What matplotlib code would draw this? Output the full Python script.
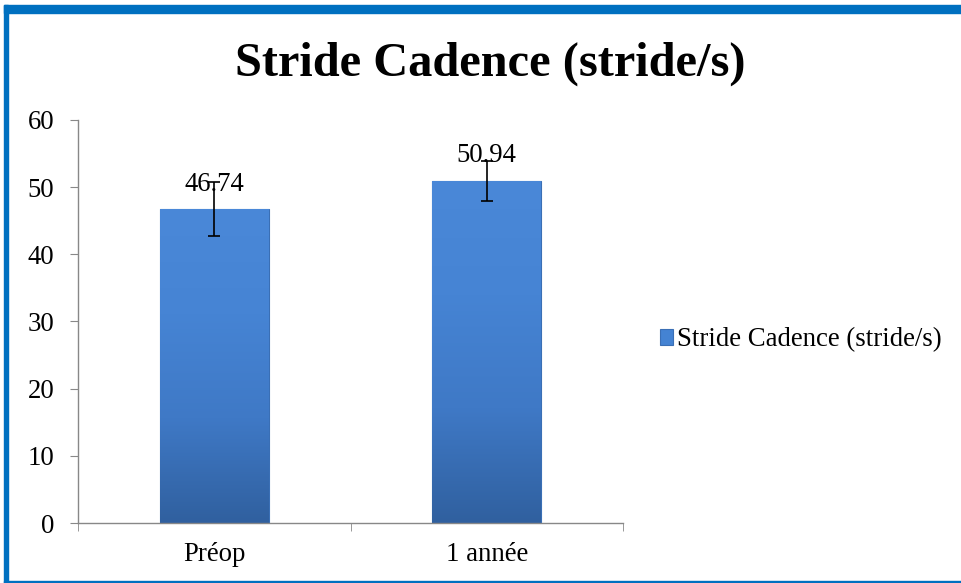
import numpy as np
import matplotlib
matplotlib.use("Agg")
import matplotlib.pyplot as plt
from matplotlib.patches import Rectangle
from matplotlib.colors import LinearSegmentedColormap

categories = ["Préop", "1 année"]
values = [46.74, 50.94]
errors = [4.0, 3.0]
series_name = "Stride Cadence (stride/s)"
title = "Stride Cadence (stride/s)"
yticks = [0, 10, 20, 30, 40, 50, 60]

plt.rcParams["font.family"] = ["Liberation Serif", "DejaVu Serif"]

fig = plt.figure(figsize=(9.62, 5.83), dpi=100)
ax = fig.add_axes([0.0811, 0.1029, 0.5665, 0.6913])

x = np.arange(len(categories))
bars = ax.bar(x, values, width=0.4, color="#4483D3", edgecolor="#3A6FB5",
              linewidth=0.8, label=series_name, zorder=2)

# vertical gradient inside each bar, clipped to the bar patch
grad = LinearSegmentedColormap.from_list("bev", ["#30609F", "#3F79C6", "#4684D4", "#4A88D8"])
for b in bars:
    x0, y0 = b.get_x(), b.get_y()
    w, h = b.get_width(), b.get_height()
    img = ax.imshow(np.linspace(0, 1, 256).reshape(-1, 1), cmap=grad, origin="lower",
                    extent=[x0, x0 + w, y0, y0 + h], aspect="auto", zorder=2.1)
    img.set_clip_path(b)

ax.errorbar(x, values, yerr=errors, fmt="none", ecolor="black", elinewidth=1.2,
            capsize=4, capthick=1.2, zorder=3)

for xi, v in zip(x, values):
    ax.annotate(f"{v:.2f}", (xi, v), xytext=(0, 9), textcoords="offset points",
                ha="center", va="bottom", fontsize=19.3, zorder=4)

ax.set_xlim(-0.5, len(categories) - 0.5)
ax.set_ylim(0, 60)
ax.set_yticks(yticks)
ax.set_xticks(x)
ax.set_xticklabels(categories)
ax.set_xticks([-0.5, 0.5, 1.5], minor=True)
ax.tick_params(axis="x", which="major", length=0, pad=14, labelsize=19.3)
ax.tick_params(axis="x", which="minor", length=6, color="#888888", direction="out")
ax.tick_params(axis="y", length=6, color="#888888", labelsize=19.3, pad=11)
for s in ["top", "right"]:
    ax.spines[s].set_visible(False)
for s in ["left", "bottom"]:
    ax.spines[s].set_color("#888888")
    ax.spines[s].set_linewidth(1.0)

fig.text(0.51, 1 - 64 / 583, title, ha="center", va="center",
         fontsize=34.8, fontweight="bold")

leg = fig.legend(handles=[bars], labels=[series_name], loc="center left",
                 bbox_to_anchor=(0.686, 1 - 340 / 583), frameon=False,
                 fontsize=19.3, handlelength=0.5, handleheight=0.5,
                 handletextpad=0.15, borderpad=0, borderaxespad=0)

# blue frame around the chart
blue = "#0070C0"
fig.patches.append(Rectangle((4 / 962, 0), 4 / 962, 1 - 5 / 583, transform=fig.transFigure,
                             color=blue, zorder=0))
fig.patches.append(Rectangle((4 / 962, 1 - 13 / 583), 1, 8 / 583, transform=fig.transFigure,
                             color=blue, zorder=0))
fig.patches.append(Rectangle((4 / 962, 0), 1, 2 / 583, transform=fig.transFigure,
                             color=blue, zorder=0))

fig.savefig("out.png", dpi=100)
